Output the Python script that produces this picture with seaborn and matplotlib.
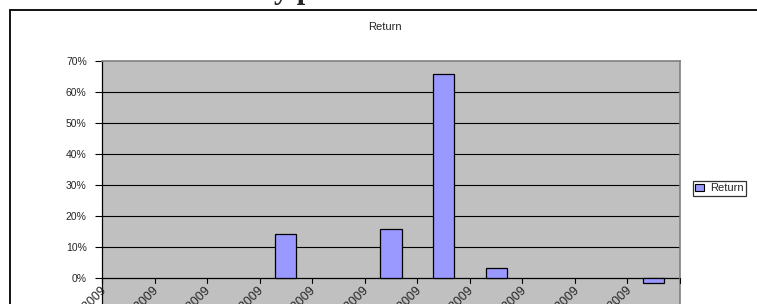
import matplotlib
matplotlib.use("Agg")
import matplotlib.pyplot as plt
import matplotlib.transforms as mtransforms
from matplotlib.patches import Rectangle
import seaborn as sns
import pandas as pd

# chart data
months = ["1/31/2009", "2/28/2009", "3/31/2009", "4/30/2009", "5/31/2009", "6/30/2009",
          "7/31/2009", "8/31/2009", "9/30/2009", "10/31/2009", "11/30/2009"]
returns = [0.0, 0.0, 0.0, 0.142, 0.0, 0.158, 0.657, 0.031, 0.0, 0.0, -0.015]
ytick_vals = [0.0, 0.1, 0.2, 0.3, 0.4, 0.5, 0.6, 0.7]
ytick_text = ["0%", "10%", "20%", "30%", "40%", "50%", "60%", "70%"]

df = pd.DataFrame({"Month": months, "Return": returns})

sns.set_style("white")
plt.rcParams["font.family"] = ["Liberation Sans", "DejaVu Sans"]

W, H = 757, 304
fig = plt.figure(figsize=(W / 100, H / 100), dpi=100)

# outer chart frame (right and bottom edges fall outside the picture)
fig.patches.append(Rectangle((10 / W, -0.2), 1.2, 1 - 10 / H + 0.2, transform=fig.transFigure,
                             fill=False, edgecolor="black", linewidth=1.3))

# bit of document heading cut off above the chart
fig.text(274 / W, 1 + 2 / H, "y p", family="Liberation Serif", fontweight="bold",
         fontsize=22, ha="left", va="baseline")

ax = fig.add_axes([102 / W, 1 - 309 / H, 578 / W, 248 / H])
ax.set_facecolor("#C0C0C0")

sns.barplot(data=df, x="Month", y="Return", color="#9999FF", edgecolor="black",
            linewidth=0.9, width=0.4, saturation=1, ax=ax, zorder=3)
# empty months show no bar at all
for p, v in zip(ax.patches, returns):
    if v == 0:
        p.set_visible(False)

ax.set_ylim(-0.1, 0.7)
ax.set_xlim(-0.5, len(months) - 0.5)
for v in ytick_vals[1:-1]:
    ax.axhline(v, color="black", linewidth=0.8, zorder=1)
ax.axhline(0, color="black", linewidth=0.9, zorder=2)

ax.set_yticks(ytick_vals)
ax.set_yticklabels(ytick_text, fontsize=7.5)
ax.tick_params(axis="y", direction="out", length=5, width=0.8, color="black", pad=6, left=True)

# category labels hang off the zero line, shifted left like the original
ax.set_xticks([])
off = mtransforms.ScaledTranslation(-20 / 100, -6 / 100, fig.dpi_scale_trans)
for i, m in enumerate(months):
    ax.text(i, 0, m, rotation=45, ha="right", va="top", fontsize=9,
            transform=ax.transData + off, clip_on=False)

# tick marks between categories on the zero line
for b in range(len(months) + 1):
    ax.plot([b - 0.5, b - 0.5], [0, -0.016], color="black", linewidth=0.8, zorder=4,
            clip_on=False)

ax.set_xlabel("")
ax.set_ylabel("")
for side in ["top", "right"]:
    ax.spines[side].set_color("#808080")
    ax.spines[side].set_linewidth(1.2)
ax.spines["left"].set_color("black")
ax.spines["left"].set_linewidth(0.9)
ax.spines["bottom"].set_visible(False)

fig.text(385 / W, 1 - 27 / H, "Return", fontsize=8, ha="center", va="center")

handles = [Rectangle((0, 0), 1, 1, facecolor="#9999FF", edgecolor="black", linewidth=0.8)]
leg = fig.legend(handles, ["Return"], loc="center left", bbox_to_anchor=(693 / W, 1 - 188.5 / H),
                 fontsize=8, frameon=True, fancybox=False, edgecolor="black",
                 handlelength=0.8, handleheight=0.7, handletextpad=0.5, borderpad=0.2,
                 borderaxespad=0)
leg.get_frame().set_linewidth(0.9)

fig.savefig("out.png", dpi=100)
